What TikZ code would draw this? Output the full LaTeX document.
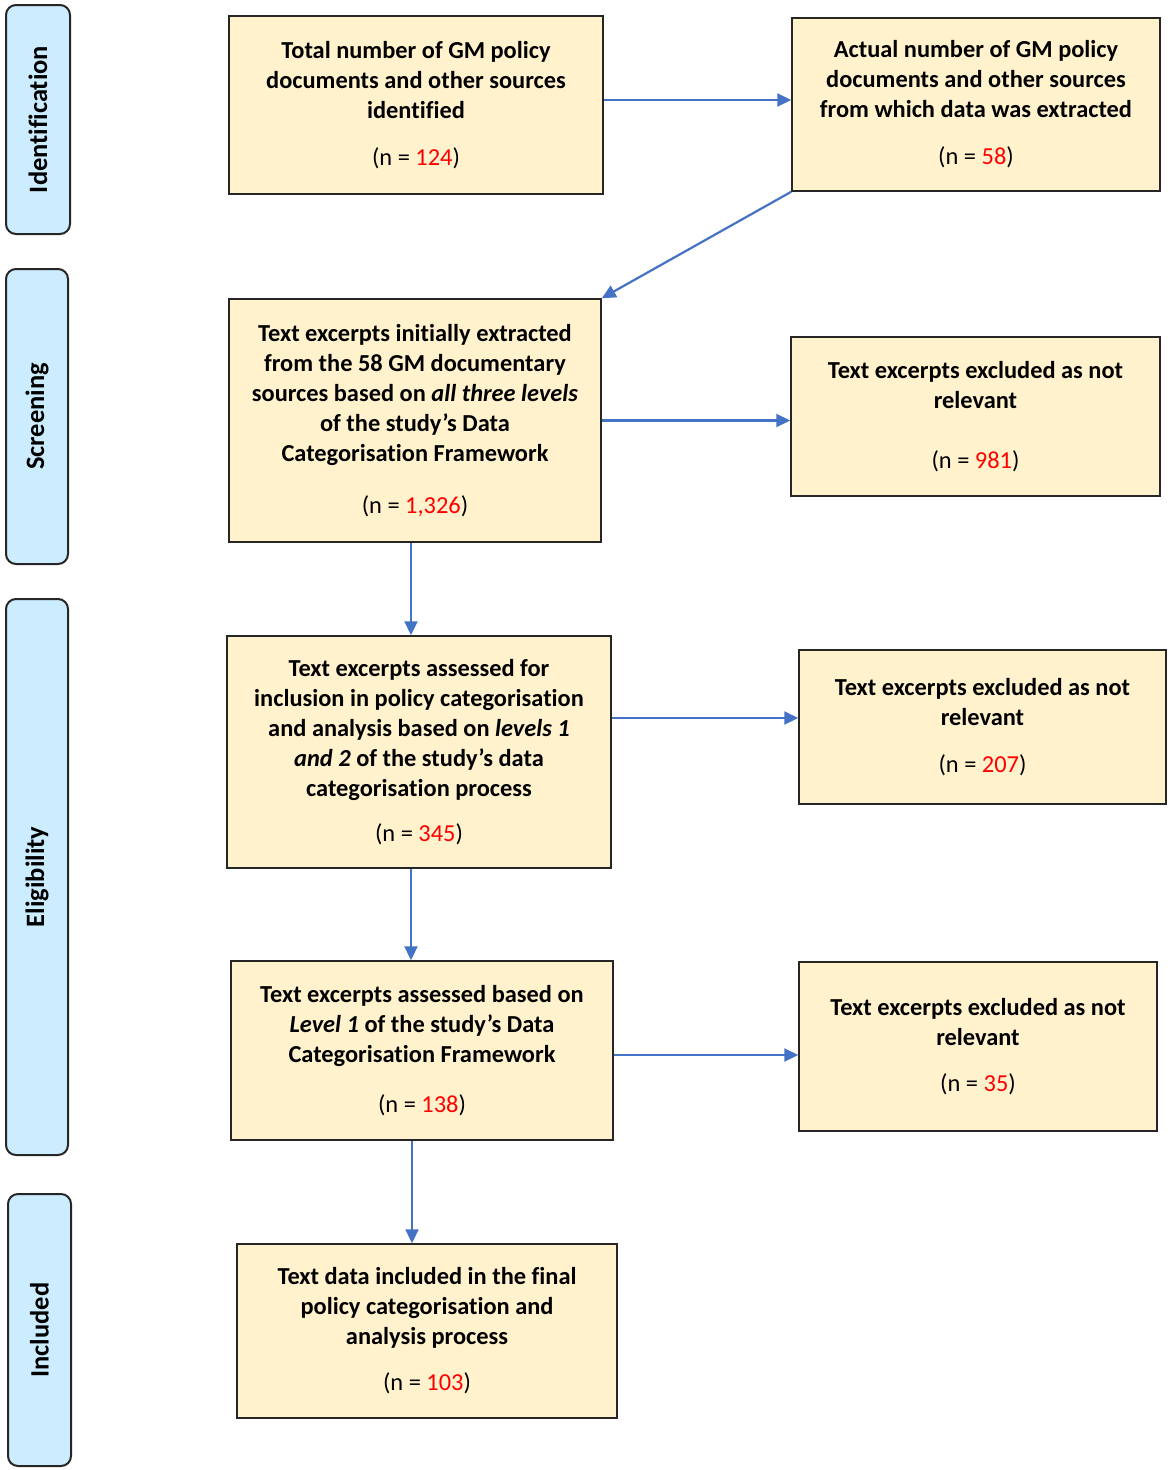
\documentclass[tikz,border=0pt]{standalone}
\usepackage{fontspec}
\setmainfont{Carlito}[Ligatures=NoCommon]
\usetikzlibrary{arrows.meta}
\definecolor{boxfill}{HTML}{FFF2CC}
\definecolor{sidefill}{HTML}{CCECFF}
\definecolor{arrowblue}{HTML}{4472C4}
\begin{document}
\begin{tikzpicture}[x=1pt,y=-1pt,
  box/.style={draw=black!85,line width=1.5pt,fill=boxfill,align=center,
    font=\fontsize{24.4}{30}\selectfont\bfseries,inner sep=0pt},
  side/.style={draw=black!85,line width=2pt,fill=sidefill,rounded corners=10pt,
    rotate=90,font=\fontsize{26.5}{30}\selectfont\bfseries,inner sep=0pt},
  arr/.style={draw=arrowblue,line width=2.2pt,-{Triangle[length=14pt,width=13pt]}}]
\useasboundingbox (0,0) rectangle (1170,1470);
% side labels
\node[side,minimum width=229pt,minimum height=64pt] (s1) at (38,119.5) {Identification};
\node[side,minimum width=295pt,minimum height=62pt] (s2) at (37,416.5) {Screening};
\node[side,minimum width=556pt,minimum height=62pt] (s3) at (37,877) {Eligibility};
\node[side,minimum width=272pt,minimum height=63pt] (s4) at (39.5,1330) {Included};
% boxes
\node[box,minimum width=374pt,minimum height=178pt] (b1) at (416,105)
  {Total number of GM policy\\documents and other sources\\identified\\[17pt]
   {\mdseries (n = \textcolor{red}{124})}};
\node[box,minimum width=368pt,minimum height=173pt] (b2) at (976,104.5)
  {Actual number of GM policy\\documents and other sources\\from which data was extracted\\[17pt]
   {\mdseries (n = \textcolor{red}{58})}};
\node[box,minimum width=372pt,minimum height=243pt] (b3) at (415,420.5)
  {Text excerpts initially extracted\\from the 58 GM documentary\\sources based on \textit{all three levels}\\of the study’s Data\\Categorisation Framework\\[22pt]
   {\mdseries (n = \textcolor{red}{1,326})}};
\node[box,minimum width=369pt,minimum height=159pt] (b4) at (975.5,416.5)
  {Text excerpts excluded as not\\relevant\\[30pt]
   {\mdseries (n = \textcolor{red}{981})}};
\node[box,minimum width=384pt,minimum height=232pt] (b5) at (419,752)
  {Text excerpts assessed for\\inclusion in policy categorisation\\and analysis based on \textit{levels 1}\\\textit{and 2} of the study’s data\\categorisation process\\[15pt]
   {\mdseries (n = \textcolor{red}{345})}};
\node[box,minimum width=367pt,minimum height=154pt] (b6) at (982.5,727)
  {Text excerpts excluded as not\\relevant\\[17pt]
   {\mdseries (n = \textcolor{red}{207})}};
\node[box,minimum width=382pt,minimum height=179pt] (b7) at (422,1050.5)
  {Text excerpts assessed based on\\\textit{Level 1} of the study’s Data\\Categorisation Framework\\[20pt]
   {\mdseries (n = \textcolor{red}{138})}};
\node[box,minimum width=358pt,minimum height=169pt] (b8) at (978,1046.5)
  {Text excerpts excluded as not\\relevant\\[16pt]
   {\mdseries (n = \textcolor{red}{35})}};
\node[box,minimum width=380pt,minimum height=174pt] (b9) at (427,1331)
  {Text data included in the final\\policy categorisation and\\analysis process\\[16pt]
   {\mdseries (n = \textcolor{red}{103})}};
% connectors
\draw[arr] ([yshift=5pt]b1.east) -- ([yshift=5pt]b1.east -| b2.west);
\draw[arr] (b2.south west) -- (b3.north east);
\draw[arr] (b3.east) -- (b3.east -| b4.west);
\draw[arr] ([xshift=-4pt]b3.south) -- ([xshift=-4pt]b3.south |- b5.north);
\draw[arr] ([yshift=34pt]b5.east) -- ([yshift=34pt]b5.east -| b6.west);
\draw[arr] ([xshift=-8pt]b5.south) -- ([xshift=-8pt]b5.south |- b7.north);
\draw[arr] ([yshift=-4.5pt]b7.east) -- ([yshift=-4.5pt]b7.east -| b8.west);
\draw[arr] ([xshift=-10pt]b7.south) -- ([xshift=-10pt]b7.south |- b9.north);
\end{tikzpicture}
\end{document}
